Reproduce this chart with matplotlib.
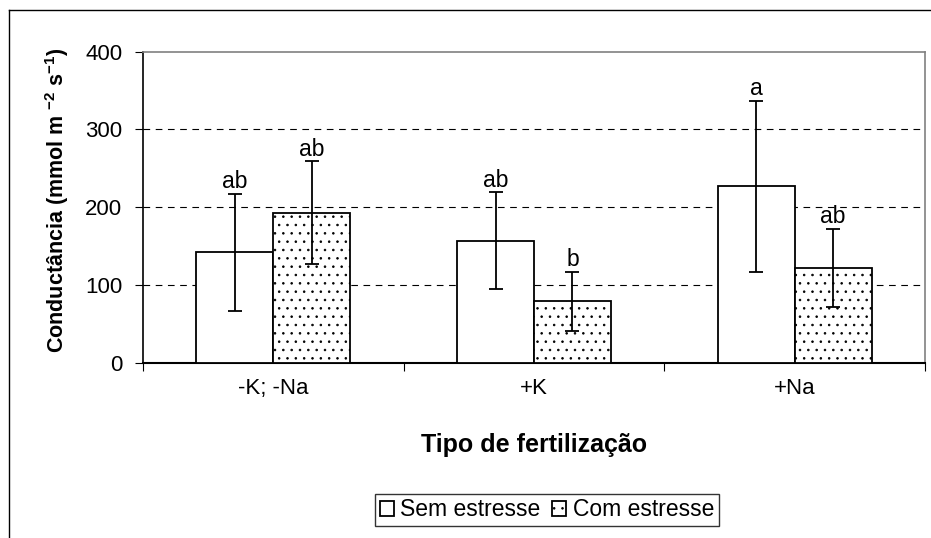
import matplotlib
matplotlib.use("Agg")
from matplotlib import pyplot as plt
from matplotlib.lines import Line2D
import numpy as np

plt.rcParams['font.family'] = ['Liberation Sans', 'DejaVu Sans']
plt.rcParams['mathtext.fontset'] = 'custom'
plt.rcParams['mathtext.rm'] = 'Liberation Sans'
plt.rcParams['mathtext.bf'] = 'Liberation Sans:bold'
plt.rcParams['axes.unicode_minus'] = False
plt.rcParams['hatch.color'] = '#555555'
plt.rcParams['hatch.linewidth'] = 0.6

# dados
categorias = ['-K; -Na', '+K', '+Na']
sem_estresse = [142, 157, 227]
sem_erro = [75, 62, 110]
com_estresse = [193, 79, 122]
com_erro = [66, 38, 50]
letras_sem = ['ab', 'ab', 'a']
letras_com = ['ab', 'b', 'ab']
yticks = [0, 100, 200, 300, 400]

fig = plt.figure(figsize=(9.31, 5.38), dpi=100)
ax = fig.add_axes([143/931, 1-363/538, 782/931, 311.5/538])

x = np.arange(len(categorias))
w = 0.295
fs = 16

ax.bar(x - w/2, sem_estresse, w, color='white', edgecolor='black', linewidth=1.3,
       label='Sem estresse', zorder=3)
ax.bar(x + w/2, com_estresse, w, color='white', edgecolor='black', linewidth=1.3,
       hatch='..', label='Com estresse', zorder=3)
ax.errorbar(x - w/2, sem_estresse, yerr=sem_erro, fmt='none', ecolor='black',
            elinewidth=1.3, capsize=5, capthick=1.3, zorder=4)
ax.errorbar(x + w/2, com_estresse, yerr=com_erro, fmt='none', ecolor='black',
            elinewidth=1.3, capsize=5, capthick=1.3, zorder=4)

for i in range(len(categorias)):
    ax.text(x[i] - w/2, sem_estresse[i] + sem_erro[i] + 1, letras_sem[i],
            ha='center', va='bottom', fontsize=16.5, zorder=5)
    ax.text(x[i] + w/2, com_estresse[i] + com_erro[i] + 1, letras_com[i],
            ha='center', va='bottom', fontsize=16.5, zorder=5)

ax.set_xlim(-0.5, 2.5)
ax.set_ylim(0, 400)
ax.set_yticks(yticks)
ax.set_yticklabels([str(v) for v in yticks], fontsize=fs)
for v in yticks[1:-1]:
    ax.axhline(v, color='black', linestyle=(0, (6, 5)), linewidth=0.8, zorder=1)

ax.set_xticks([-0.5, 0.5, 1.5, 2.5])
ax.set_xticklabels([])
ax.set_xticks(x, minor=True)
ax.set_xticklabels(categorias, minor=True, fontsize=fs)
ax.tick_params(axis='x', which='major', direction='out', length=6, width=0.8)
ax.tick_params(axis='x', which='minor', length=0, pad=11)
ax.tick_params(axis='y', direction='out', length=6, width=0.8, pad=9)

ax.spines['left'].set_linewidth(1.2)
ax.spines['bottom'].set_linewidth(1.5)
ax.spines['top'].set_color('#808080')
ax.spines['right'].set_color('#808080')
ax.spines['top'].set_linewidth(1.2)
ax.spines['right'].set_linewidth(1.2)

fig.text(57/931, 1-200/538,
         r'Conductância (mmol m $^{\mathbf{-2}}$ s$^{\mathbf{-1}}$)',
         fontsize=15.5, fontweight='bold', rotation=90, ha='center', va='center')
fig.text(534/931, 1-445/538, 'Tipo de fertilização', fontsize=18,
         fontweight='bold', ha='center', va='center')

leg = fig.legend(loc='center', bbox_to_anchor=(547/931, 1-510/538), ncol=2,
                 fontsize=16.5, frameon=True, fancybox=False, edgecolor='black',
                 handlelength=0.6, handleheight=0.6, handletextpad=0.3,
                 columnspacing=0.5, borderpad=0.2, borderaxespad=0)
leg.get_frame().set_linewidth(1.0)

# moldura externa
fig.add_artist(Line2D([9/931, 9/931], [0, 1-10/538], color='black', lw=1,
                      transform=fig.transFigure))
fig.add_artist(Line2D([9/931, 1], [1-10/538, 1-10/538], color='black', lw=1,
                      transform=fig.transFigure))

fig.savefig('out.png', dpi=100)
